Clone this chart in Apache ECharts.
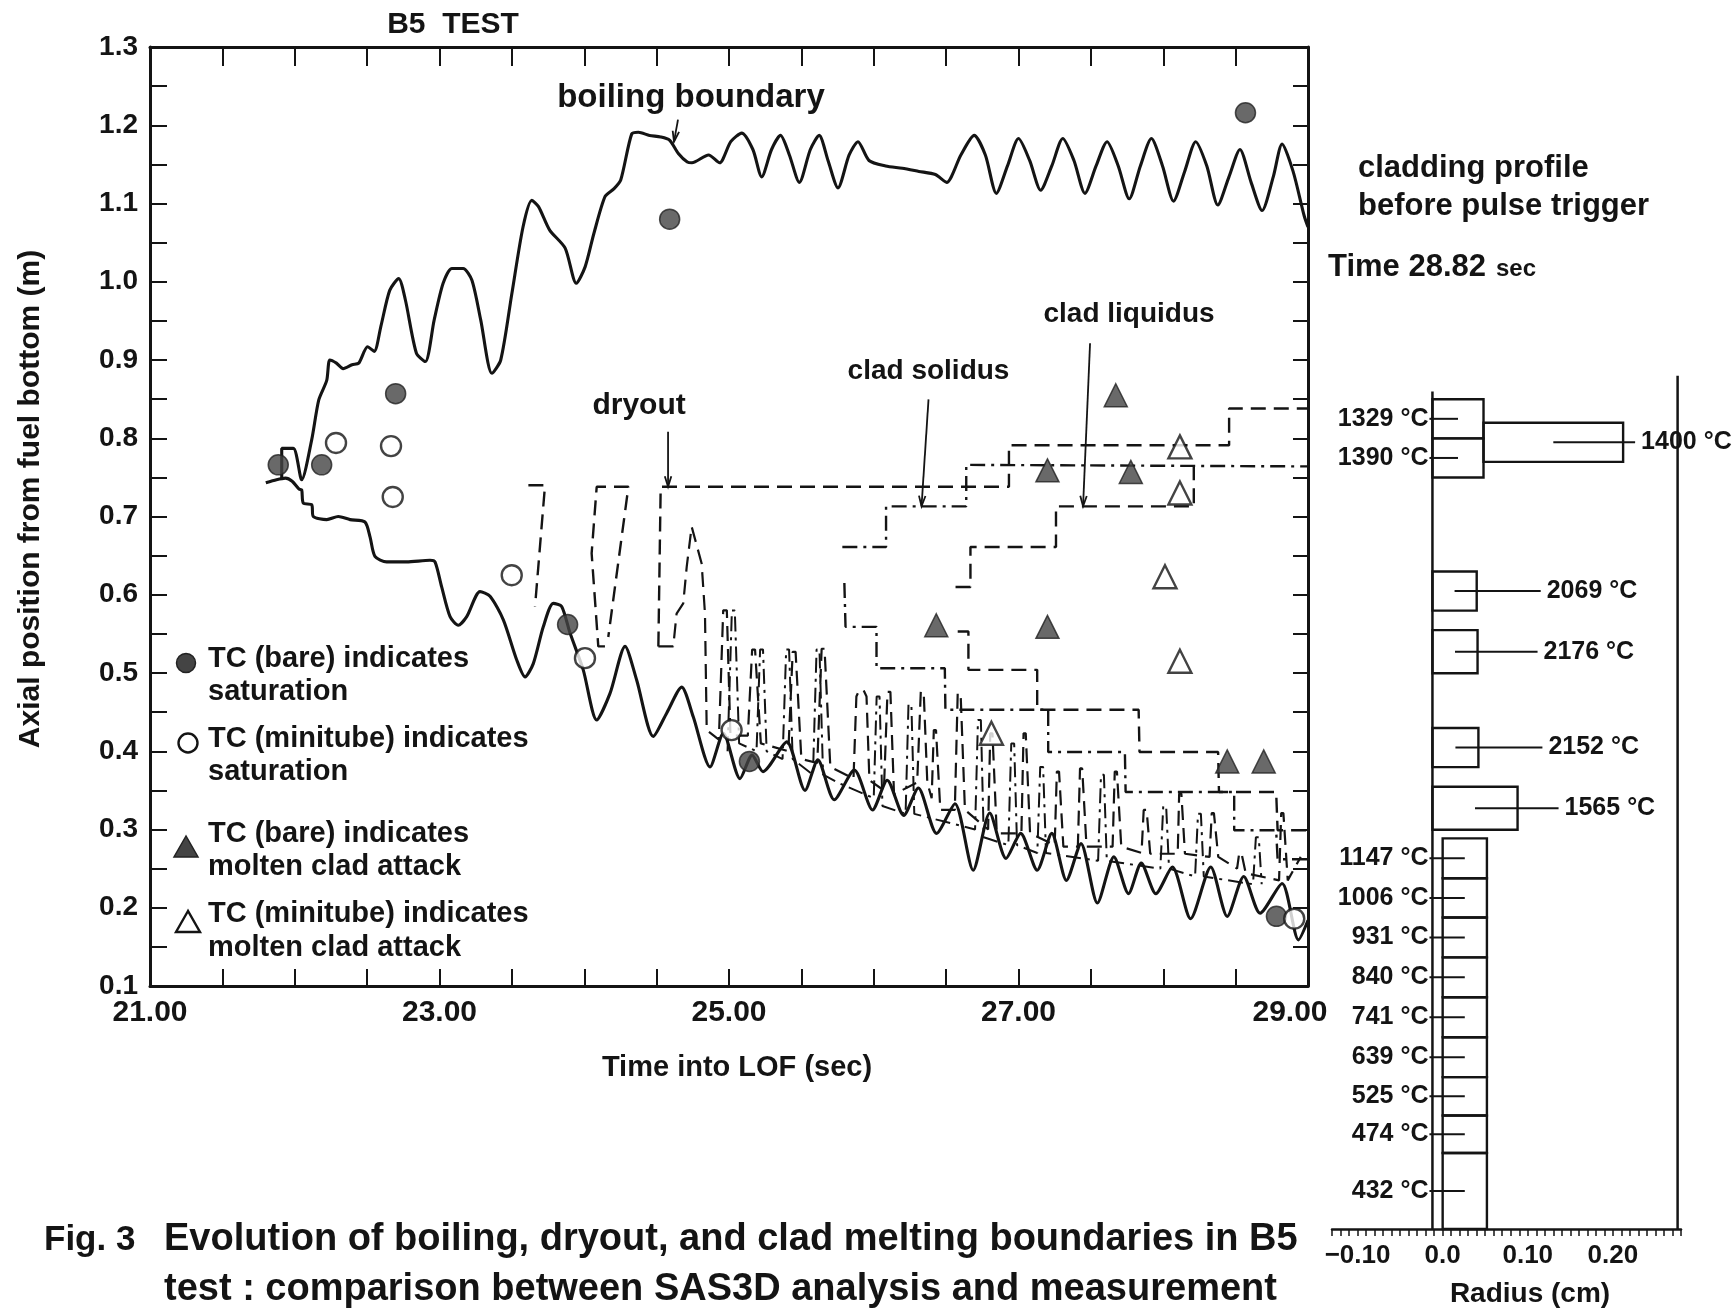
<!DOCTYPE html>
<html>
<head>
<meta charset="utf-8">
<title>B5 TEST</title>
<script src="https://cdn.jsdelivr.net/npm/echarts@6/dist/echarts.min.js"></script>
<style>
html, body { margin: 0; padding: 0; background: #fff; }
#main { width: 1736px; height: 1309px; }
</style>
</head>
<body>
<div id="main"></div>
<script>
// ---- data: [time into LOF (s), axial position (m)] ----
var timeLabels = ['21.00', '23.00', '25.00', '27.00', '29.00'];
var axialLabels = ['0.1', '0.2', '0.3', '0.4', '0.5', '0.6', '0.7', '0.8', '0.9', '1.0', '1.1', '1.2', '1.3'];

// boiling boundary, upper and lower (solid)
var boilingUpper = [[21.91,0.749],[21.91,0.787],[21.99,0.787],[22.048,0.747],[22.117,0.798],[22.166,0.849],[22.221,0.874],[22.242,0.900],[22.288,0.896],[22.334,0.889],[22.396,0.894],[22.442,0.896],[22.503,0.917],[22.549,0.911],[22.595,0.943],[22.656,0.989],[22.718,1.004],[22.764,0.977],[22.840,0.909],[22.902,0.898],[22.963,0.951],[23.025,0.998],[23.086,1.017],[23.163,1.017],[23.224,1.002],[23.285,0.951],[23.362,0.883],[23.423,0.900],[23.500,0.985],[23.577,1.070],[23.638,1.104],[23.684,1.096],[23.761,1.066],[23.868,1.043],[23.945,0.998],[24.006,1.019],[24.067,1.062],[24.144,1.109],[24.206,1.119],[24.252,1.130],[24.328,1.189],[24.374,1.191],[24.451,1.187],[24.528,1.185],[24.589,1.181],[24.650,1.164],[24.712,1.153],[24.744,1.152],[24.859,1.162],[24.935,1.152],[25.012,1.179],[25.088,1.190],[25.165,1.169],[25.226,1.134],[25.294,1.169],[25.356,1.187],[25.417,1.162],[25.486,1.127],[25.562,1.169],[25.623,1.187],[25.684,1.155],[25.753,1.120],[25.830,1.162],[25.891,1.179],[25.967,1.155],[26.082,1.148],[26.197,1.145],[26.312,1.141],[26.426,1.137],[26.503,1.127],[26.602,1.162],[26.694,1.187],[26.771,1.162],[26.847,1.113],[26.924,1.148],[27.000,1.183],[27.077,1.155],[27.153,1.117],[27.230,1.148],[27.306,1.183],[27.383,1.155],[27.459,1.113],[27.536,1.148],[27.612,1.179],[27.689,1.148],[27.765,1.106],[27.842,1.148],[27.918,1.183],[27.995,1.148],[28.071,1.103],[28.148,1.141],[28.224,1.179],[28.301,1.148],[28.377,1.098],[28.454,1.134],[28.530,1.169],[28.607,1.127],[28.683,1.091],[28.760,1.134],[28.821,1.176],[28.897,1.141],[28.974,1.084],[29.0,1.07]];
var boilingLower = [[21.80,0.743],[21.874,0.747],[21.936,0.749],[21.982,0.745],[22.03,0.735],[22.048,0.734],[22.059,0.717],[22.117,0.715],[22.128,0.700],[22.221,0.696],[22.301,0.700],[22.382,0.696],[22.485,0.693],[22.520,0.674],[22.554,0.649],[22.635,0.642],[22.773,0.642],[22.934,0.644],[22.969,0.642],[23.015,0.610],[23.073,0.572],[23.130,0.561],[23.188,0.572],[23.280,0.604],[23.349,0.598],[23.441,0.568],[23.533,0.517],[23.591,0.495],[23.648,0.512],[23.717,0.559],[23.786,0.589],[23.844,0.585],[23.902,0.551],[23.993,0.504],[24.086,0.440],[24.178,0.474],[24.282,0.534],[24.362,0.491],[24.477,0.419],[24.570,0.449],[24.673,0.482],[24.753,0.444],[24.869,0.380],[24.961,0.423],[25.076,0.365],[25.16,0.395],[25.235,0.374],[25.399,0.412],[25.525,0.350],[25.614,0.389],[25.727,0.338],[25.866,0.376],[25.992,0.325],[26.093,0.363],[26.207,0.318],[26.308,0.353],[26.434,0.295],[26.561,0.333],[26.687,0.248],[26.801,0.321],[26.914,0.263],[27.015,0.295],[27.129,0.248],[27.230,0.295],[27.331,0.235],[27.432,0.282],[27.545,0.206],[27.659,0.265],[27.760,0.218],[27.848,0.257],[27.949,0.218],[28.063,0.252],[28.189,0.186],[28.328,0.252],[28.442,0.189],[28.556,0.240],[28.669,0.193],[28.821,0.231],[28.934,0.159],[29.0,0.184]];

// dryout boundary (dashed)
var dryoutA = [[23.614,0.740],[23.729,0.740],[23.66,0.585]];
var dryoutB = [[24.143,0.534],[24.097,0.534],[24.051,0.653],[24.086,0.738],[24.305,0.738],[24.166,0.546]];
var dryoutTop = [[24.512,0.534],[24.528,0.738],[26.934,0.738],[26.934,0.791],[28.455,0.791],[28.455,0.838],[29.0,0.838]];
var dryoutSpikes = [[24.512,0.534],[24.615,0.534],[24.638,0.576],[24.684,0.589],[24.708,0.636],[24.742,0.687],[24.811,0.640],[24.834,0.576],[24.846,0.427],
  [24.93,0.415],[24.96,0.58],[24.985,0.58],[25.01,0.42],
  [25.13,0.42],[25.16,0.53],[25.18,0.53],[25.22,0.41],
  [25.41,0.40],[25.44,0.527],[25.46,0.527],[25.50,0.39],
  [25.61,0.385],[25.64,0.531],[25.66,0.531],[25.70,0.38],
  [25.86,0.365],[25.88,0.47],[25.90,0.478],[25.93,0.478],[25.95,0.47],[25.97,0.363],
  [26.07,0.35],[26.095,0.476],[26.115,0.476],[26.14,0.345],
  [26.30,0.36],[26.325,0.476],[26.345,0.476],[26.37,0.36],
  [26.40,0.34],[26.415,0.427],[26.43,0.427],[26.46,0.325],
  [26.56,0.325],[26.58,0.474],[26.60,0.474],[26.63,0.325],
  [26.79,0.30],[26.805,0.423],[26.82,0.423],[26.85,0.295],
  [27.02,0.295],[27.035,0.423],[27.05,0.423],[27.08,0.295],
  [27.25,0.28],[27.265,0.374],[27.28,0.374],[27.31,0.278],
  [27.41,0.278],[27.425,0.378],[27.44,0.378],[27.47,0.278],
  [27.65,0.278],[27.665,0.374],[27.68,0.374],[27.71,0.278],
  [27.85,0.27],[27.865,0.325],[27.885,0.325],[27.91,0.269],
  [28.10,0.269],[28.11,0.346],[28.125,0.346],[28.15,0.269],
  [28.32,0.265],[28.335,0.321],[28.35,0.321],[28.38,0.265],
  [28.51,0.25],[28.525,0.27],[28.54,0.27],[28.57,0.244],
  [28.80,0.235],[28.815,0.321],[28.83,0.321],[28.86,0.235],[28.95,0.265]];
var cladSpikes = [[24.99,0.40],[25.02,0.58],[25.04,0.58],[25.07,0.41],
  [25.19,0.40],[25.215,0.53],[25.235,0.53],[25.26,0.40],
  [25.37,0.39],[25.395,0.53],[25.415,0.53],[25.44,0.39],
  [25.58,0.37],[25.605,0.53],[25.625,0.53],[25.65,0.37],
  [25.75,0.36],[26.00,0.34],[26.02,0.47],[26.04,0.47],[26.06,0.33],
  [26.22,0.32],[26.24,0.46],[26.26,0.46],[26.28,0.32],
  [26.70,0.30],[26.72,0.44],[26.74,0.44],[26.76,0.29],
  [26.93,0.28],[26.95,0.41],[26.97,0.41],[26.99,0.28],
  [27.13,0.27],[27.15,0.38],[27.17,0.38],[27.19,0.27],
  [27.55,0.26],[27.57,0.37],[27.59,0.37],[27.61,0.26],
  [27.98,0.25],[28.00,0.33],[28.02,0.33],[28.04,0.25],
  [28.22,0.24],[28.24,0.32],[28.26,0.32],[28.28,0.24],
  [28.62,0.23],[28.64,0.29],[28.66,0.29],[28.68,0.23]];

// clad solidus (dash-dot) and clad liquidus (dashed) boundaries
var solidusTop = [[25.783,0.661],[26.085,0.661],[26.085,0.713],[26.639,0.713],[26.639,0.766],[29.0,0.764]];
var solidusBottom = [[25.797,0.615],[25.805,0.559],[26.019,0.559],[26.019,0.506],[26.491,0.506],[26.495,0.453],[27.205,0.453],[27.205,0.399],[27.735,0.399],[27.74,0.348],[28.49,0.348],[28.49,0.299],[28.78,0.299],[28.79,0.262],[29.0,0.262]];
var liquidusTop = [[26.565,0.610],[26.668,0.610],[26.668,0.661],[27.259,0.661],[27.259,0.713],[28.211,0.713],[28.211,0.766]];
var liquidusBottom = [[26.58,0.553],[26.654,0.553],[26.654,0.504],[27.129,0.504],[27.129,0.453],[27.83,0.453],[27.836,0.399],[28.379,0.399],[28.385,0.348],[28.78,0.348],[28.79,0.299],[29.0,0.299]];

// thermocouple readings
var tcBareSat = [[21.886,0.766],[22.186,0.766],[22.697,0.857],[23.885,0.562],[24.59,1.080],[25.141,0.387],[28.568,1.216],[28.782,0.189]];
var tcTubeSat = [[22.285,0.794],[22.665,0.790],[22.677,0.725],[23.499,0.625],[24.005,0.519],[25.018,0.427],[28.905,0.186]];
var tcBareMolten = [[27.672,0.855],[27.200,0.759],[27.776,0.757],[26.432,0.561],[27.200,0.559],[28.442,0.387],[28.694,0.387]];
var tcTubeMolten = [[28.115,0.789],[28.115,0.730],[28.012,0.623],[28.115,0.515],[26.813,0.423]];

// annotations: text and the point each arrow touches
var annoText = ['boiling boundary', 'dryout', 'clad solidus', 'clad liquidus'];
var annoTip = [[24.62,1.179],[24.579,0.738],[26.33,0.713],[27.446,0.713]];

// cladding profile at 28.82 s: temperature (°C), radius span (cm), axial span (m)
var segTemp = [1329, 1390, 1400, 2069, 2176, 2152, 1565, 1147, 1006, 931, 840, 741, 639, 525, 474, 432];
var segR0 = [-0.012, -0.012, 0.048, -0.012, -0.012, -0.012, -0.012, 0, 0, 0, 0, 0, 0, 0, 0, 0];
var segR1 = [0.048, 0.048, 0.212, 0.040, 0.041, 0.042, 0.088, 0.052, 0.052, 0.052, 0.052, 0.052, 0.052, 0.052, 0.052, 0.052];
var segZ0 = [0.80, 0.75, 0.77, 0.58, 0.50, 0.38, 0.30, 0.238, 0.188, 0.137, 0.086, 0.035, -0.016, -0.065, -0.113, -0.21];
var segZ1 = [0.85, 0.80, 0.82, 0.63, 0.555, 0.43, 0.355, 0.289, 0.238, 0.188, 0.137, 0.086, 0.035, -0.016, -0.065, -0.113];
var cladWallLeft = [[-0.012,0.86],[-0.012,-0.21]];
var cladWallRight = [[0.276,0.88],[0.276,-0.21]];
var radiusTicks = [-0.10, 0.0, 0.10, 0.20];
var radiusTickText = ['\u22120.10', '0.0', '0.10', '0.20'];

// ---- layout ----
var ink = '#141414';
var F = "'Liberation Sans', Arial, Helvetica, sans-serif";
var leftLabelled = [1329, 1390, 1147, 1006, 931, 840, 741, 639, 525, 474, 432];
var rightGap = { 1400: 18, 1565: 47, 2176: 66 };
// arrow start (ax, ay) and text centre (tx, ty) relative to the arrow tip, px
var annoLayout = [
  { ax: 4, ay: -22, tx: 17, ty: -44, size: 33 },
  { ax: 0, ay: -55, tx: -29, ty: -81, size: 30 },
  { ax: 7, ay: -107, tx: 7, ty: -135, size: 28 },
  { ax: 7, ay: -163, tx: 46, ty: -192, size: 28 }
];

function txt(x, y, s, size, align) {
  return { type: 'text', x: x, y: y, z: 50,
    style: { text: s, fontSize: size, fontWeight: 'bold', fontFamily: F, fill: ink,
      textAlign: align || 'left', textVerticalAlign: 'middle', verticalAlign: 'middle' } };
}

function lineSeries(name, data, type, width, smooth) {
  return {
    name: name, type: 'line', xAxisIndex: 0, yAxisIndex: 0, data: data,
    showSymbol: false, symbol: 'none', smooth: smooth || false, z: 3,
    lineStyle: { color: ink, width: width, type: type }
  };
}

function markerSeries(name, data, symbol, filled, size) {
  return {
    name: name, type: 'scatter', xAxisIndex: 0, yAxisIndex: 0, data: data,
    symbol: symbol, symbolSize: size, z: 6,
    itemStyle: filled ? { color: '#444444', borderColor: '#222', borderWidth: 1.5 }
                      : { color: '#ffffff', borderColor: ink, borderWidth: 2.4 }
  };
}

var dashed = [15, 8];
var dashDot = [15, 6, 3, 6];

var myChart = echarts.init(document.getElementById('main'), null, { renderer: 'canvas' });

myChart.setOption({
  animation: false,
  backgroundColor: '#ffffff',
  grid: [
    { left: 150, top: 47, width: 1158, height: 939, outerBoundsMode: 'none' },
    { left: 1332, top: 47, width: 349, height: 1182, outerBoundsMode: 'none' }
  ],
  xAxis: [
    {
      type: 'value', gridIndex: 0, min: 21, max: 29, interval: 0.5, position: 'bottom',
      axisLine: { show: true, onZero: false, lineStyle: { color: ink, width: 3 } },
      axisTick: { show: true, inside: true, length: 17, lineStyle: { color: ink, width: 2 } },
      axisLabel: {
        margin: 12, fontSize: 30, fontWeight: 'bold', fontFamily: F, color: ink,
        showMinLabel: true, showMaxLabel: true,
        rich: { last: { fontSize: 30, fontWeight: 'bold', fontFamily: F, color: ink, padding: [0, 36, 0, 0] } },
        formatter: function (v) {
          var s = v.toFixed(2);
          if (timeLabels.indexOf(s) < 0) return '';
          return s === timeLabels[timeLabels.length - 1] ? '{last|' + s + '}' : s;
        }
      },
      splitLine: { show: false }
    },
    {
      type: 'value', gridIndex: 0, min: 21, max: 29, interval: 0.5, position: 'top',
      axisLine: { show: true, onZero: false, lineStyle: { color: ink, width: 3 } },
      axisTick: { show: true, inside: true, length: 19, lineStyle: { color: ink, width: 2 } },
      axisLabel: { show: false }, splitLine: { show: false }
    },
    {
      type: 'value', gridIndex: 1, min: -0.13, max: 0.28, interval: 0.01, position: 'bottom',
      axisLine: { show: true, onZero: false, lineStyle: { color: ink, width: 2.5 } },
      axisTick: { show: true, inside: false, length: 7, lineStyle: { color: ink, width: 1.5 } },
      axisLabel: {
        margin: 14, fontSize: 26, fontWeight: 'bold', fontFamily: F, color: ink,
        formatter: function (v) {
          var k = Math.round(v * 100);
          for (var i = 0; i < radiusTicks.length; i++) {
            if (Math.round(radiusTicks[i] * 100) === k) return radiusTickText[i];
          }
          return '';
        }
      },
      splitLine: { show: false }
    }
  ],
  yAxis: [
    {
      type: 'value', gridIndex: 0, min: 0.1, max: 1.3, interval: 0.05, position: 'left',
      axisLine: { show: true, onZero: false, lineStyle: { color: ink, width: 3 } },
      axisTick: { show: true, inside: true, length: 17, lineStyle: { color: ink, width: 2 } },
      axisLabel: {
        margin: 12, fontSize: 28, fontWeight: 'bold', fontFamily: F, color: ink,
        showMinLabel: true, showMaxLabel: true,
        formatter: function (v) {
          if (Math.abs(v * 10 - Math.round(v * 10)) > 1e-6) return '';
          var s = v.toFixed(1);
          return axialLabels.indexOf(s) >= 0 ? s : '';
        }
      },
      splitLine: { show: false }
    },
    {
      type: 'value', gridIndex: 0, min: 0.1, max: 1.3, interval: 0.05, position: 'right',
      axisLine: { show: true, onZero: false, lineStyle: { color: ink, width: 3 } },
      axisTick: { show: true, inside: true, length: 15, lineStyle: { color: ink, width: 2 } },
      axisLabel: { show: false }, splitLine: { show: false }
    },
    {
      type: 'value', gridIndex: 1, min: -0.21, max: 1.3, show: false,
      axisLine: { show: false }, axisTick: { show: false }, axisLabel: { show: false }, splitLine: { show: false }
    }
  ],
  series: [
    lineSeries('boiling upper', boilingUpper, 'solid', 3.1, 0.25),
    lineSeries('boiling lower', boilingLower, 'solid', 3.1, 0.25),
    lineSeries('dryout a', dryoutA, dashed, 2.4),
    lineSeries('dryout b', dryoutB, dashed, 2.4),
    lineSeries('dryout', dryoutTop, dashed, 2.4),
    lineSeries('dryout spikes', dryoutSpikes, dashed, 2.2),
    lineSeries('clad spikes', cladSpikes, dashDot, 2),
    lineSeries('solidus top', solidusTop, dashDot, 2.4),
    lineSeries('solidus bottom', solidusBottom, dashDot, 2.4),
    lineSeries('liquidus top', liquidusTop, dashed, 2.4),
    lineSeries('liquidus bottom', liquidusBottom, dashed, 2.4),
    markerSeries('TC (bare) saturation', tcBareSat, 'circle', true, 20),
    markerSeries('TC (minitube) saturation', tcTubeSat, 'circle', false, 20),
    markerSeries('TC (bare) molten clad attack', tcBareMolten, 'triangle', true, 23),
    markerSeries('TC (minitube) molten clad attack', tcTubeMolten, 'triangle', false, 23),
    {
      name: 'annotations', type: 'custom', xAxisIndex: 0, yAxisIndex: 0, clip: false, z: 8,
      data: annoTip.map(function (p, i) { return [p[0], p[1], i]; }),
      renderItem: function (params, api) {
        var i = api.value(2);
        var L = annoLayout[i];
        var tip = api.coord([api.value(0), api.value(1)]);
        var sx = tip[0] + L.ax, sy = tip[1] + L.ay;
        var dx = tip[0] - sx, dy = tip[1] - sy, len = Math.sqrt(dx * dx + dy * dy);
        var ux = dx / len, uy = dy / len, h = 11, a = 0.3;
        var c = Math.cos(a), s = Math.sin(a);
        var h1 = [tip[0] - h * (ux * c - uy * s), tip[1] - h * (uy * c + ux * s)];
        var h2 = [tip[0] - h * (ux * c + uy * s), tip[1] - h * (uy * c - ux * s)];
        return { type: 'group', children: [
          { type: 'line', shape: { x1: sx, y1: sy, x2: tip[0], y2: tip[1] }, style: { stroke: ink, lineWidth: 1.8 } },
          { type: 'polyline', shape: { points: [h1, tip, h2] }, style: { stroke: ink, lineWidth: 1.8, fill: null } },
          { type: 'text', x: tip[0] + L.tx, y: tip[1] + L.ty,
            style: { text: annoText[i], fontSize: L.size, fontWeight: 'bold', fontFamily: F, fill: ink,
              textAlign: 'center', textVerticalAlign: 'middle', verticalAlign: 'middle' } }
        ] };
      }
    },
    {
      name: 'clad wall left', type: 'line', xAxisIndex: 2, yAxisIndex: 2, data: cladWallLeft,
      showSymbol: false, symbol: 'none', lineStyle: { color: ink, width: 2.5 }
    },
    {
      name: 'clad wall right', type: 'line', xAxisIndex: 2, yAxisIndex: 2, data: cladWallRight,
      showSymbol: false, symbol: 'none', lineStyle: { color: ink, width: 2.5 }
    },
    {
      name: 'cladding profile', type: 'custom', xAxisIndex: 2, yAxisIndex: 2, clip: false, z: 5,
      encode: { x: [0, 1], y: [2, 3] },
      data: segTemp.map(function (t, i) { return [segR0[i], segR1[i], segZ0[i], segZ1[i], t]; }),
      renderItem: function (params, api) {
        var r0 = api.value(0), r1 = api.value(1), z0 = api.value(2), z1 = api.value(3), T = api.value(4);
        var tl = api.coord([r0, z1]), br = api.coord([r1, z0]);
        var cx = (tl[0] + br[0]) / 2, cy = (tl[1] + br[1]) / 2;
        var kids = [{ type: 'rect', shape: { x: tl[0], y: tl[1], width: br[0] - tl[0], height: br[1] - tl[1] },
          style: { fill: 'rgba(0,0,0,0)', stroke: ink, lineWidth: 2.4 } }];
        var label = T + ' \u00b0C';
        if (leftLabelled.indexOf(T) >= 0) {
          var xe = api.coord([cladWallLeft[0][0], 0])[0] - 3;
          kids.push({ type: 'line', shape: { x1: xe, y1: cy, x2: cx, y2: cy }, style: { stroke: ink, lineWidth: 2 } });
          kids.push({ type: 'text', x: xe - 1, y: cy,
            style: { text: label, fontSize: 25, fontWeight: 'bold', fontFamily: F, fill: ink,
              textAlign: 'right', textVerticalAlign: 'middle', verticalAlign: 'middle' } });
        } else {
          var tx = br[0] + (rightGap[T] || 70);
          kids.push({ type: 'line', shape: { x1: cx, y1: cy, x2: tx - 6, y2: cy }, style: { stroke: ink, lineWidth: 2 } });
          kids.push({ type: 'text', x: tx, y: cy,
            style: { text: label, fontSize: 25, fontWeight: 'bold', fontFamily: F, fill: ink,
              textAlign: 'left', textVerticalAlign: 'middle', verticalAlign: 'middle' } });
        }
        return { type: 'group', children: kids };
      }
    }
  ],
  graphic: [
    txt(453, 25, 'B5  TEST', 30, 'center'),
    { type: 'text', x: 31, y: 499, rotation: Math.PI / 2,
      style: { text: 'Axial position from fuel bottom (m)', fontSize: 30, fontWeight: 'bold', fontFamily: F, fill: ink,
        textAlign: 'center', textVerticalAlign: 'middle', verticalAlign: 'middle' } },
    txt(737, 1068, 'Time into LOF (sec)', 29, 'center'),
    // legend
    { type: 'circle', shape: { cx: 186, cy: 663, r: 9.5 }, style: { fill: '#444444', stroke: '#222', lineWidth: 1.5 } },
    txt(208, 659, 'TC (bare) indicates', 29),
    txt(208, 692, 'saturation', 29),
    { type: 'circle', shape: { cx: 188, cy: 743, r: 9.5 }, style: { fill: '#fff', stroke: ink, lineWidth: 2.4 } },
    txt(208, 739, 'TC (minitube) indicates', 29),
    txt(208, 772, 'saturation', 29),
    { type: 'polygon', shape: { points: [[186, 836], [174, 857], [198, 857]] }, style: { fill: '#444444', stroke: '#222', lineWidth: 1.5 } },
    txt(208, 834, 'TC (bare) indicates', 29),
    txt(208, 867, 'molten clad attack', 29),
    { type: 'polygon', shape: { points: [[188, 911], [176, 932], [200, 932]] }, style: { fill: '#fff', stroke: ink, lineWidth: 2.4 } },
    txt(208, 914, 'TC (minitube) indicates', 29),
    txt(208, 948, 'molten clad attack', 29),
    // cladding profile header
    txt(1358, 168, 'cladding profile', 31),
    txt(1358, 206, 'before pulse trigger', 31),
    txt(1328, 267, 'Time 28.82', 31),
    txt(1496, 269, 'sec', 24),
    txt(1530, 1294, 'Radius (cm)', 28, 'center'),
    // caption
    txt(44, 1240, 'Fig. 3', 35),
    txt(164, 1240, 'Evolution of boiling, dryout, and clad melting boundaries in B5', 38),
    txt(164, 1290, 'test : comparison between SAS3D analysis and measurement', 38)
  ]
});
</script>
</body>
</html>
